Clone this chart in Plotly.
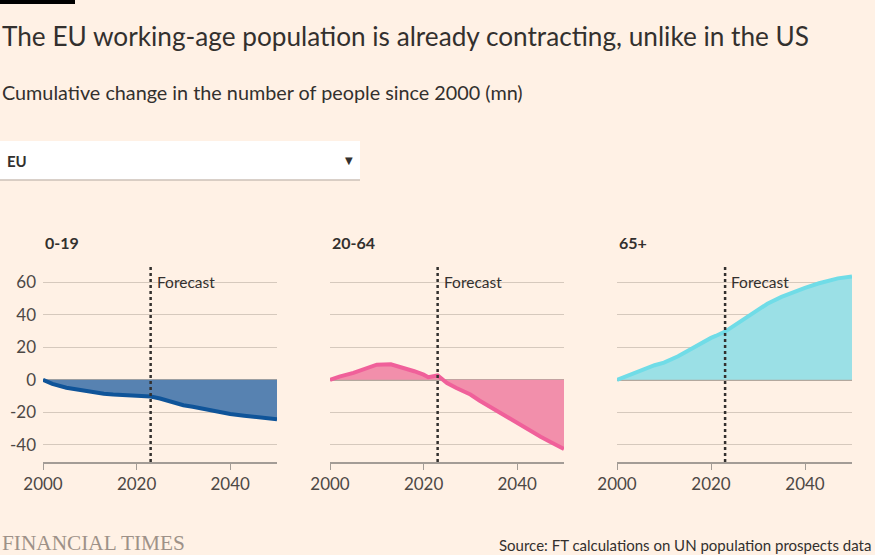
import plotly.graph_objects as go

W, H = 875, 555

years = [2000, 2002, 2005, 2008, 2010, 2013, 2015, 2018, 2020, 2021, 2023,
         2025, 2027, 2030, 2032, 2035, 2038, 2040, 2043, 2045, 2047, 2050]

age_0_19 = [0, -2.5, -4.8, -6.3, -7.2, -8.5, -9.0, -9.4, -9.8, -10.0, -10.3,
            -11.5, -13.2, -15.6, -16.5, -18.3, -20.2, -21.0, -22.0, -22.6, -23.4, -24.2]
age_20_64 = [0, 2.0, 4.3, 7.6, 9.3, 9.6, 8.0, 5.3, 3.2, 1.6, 2.7,
             -1.9, -5.0, -9.0, -12.8, -18.0, -23.2, -26.6, -31.5, -35.0, -38.0, -42.5]
age_65 = [0, 2.3, 5.8, 9.0, 10.6, 14.5, 17.8, 22.8, 25.8, 27.0, 29.7,
          33.5, 37.4, 43.0, 46.8, 51.0, 54.6, 56.6, 59.4, 61.0, 62.4, 63.6]

panels = ["0-19", "20-64", "65+"]
series = [age_0_19, age_20_64, age_65]
line_colors = ["#0f5499", "#f0609a", "#70dce7"]
fill_colors = ["#5782b1", "#f28fab", "#9be0e6"]
y_ticks = [-40, -20, 0, 20, 40, 60]
y_tick_labels = ["-40", "-20", "0", "20", "40", "60"]
x_ticks = [2000, 2020, 2040]
forecast_year = 2023

# panel positions in pixels (left, right)
px_left = [43, 330, 617]
px_right = [277, 564, 852]
y_top, y_bottom = 266, 462

fig = go.Figure()

for i in range(3):
    n = "" if i == 0 else str(i + 1)
    fig.add_trace(go.Scatter(
        x=years, y=series[i], mode="lines",
        line=dict(color=line_colors[i], width=4),
        fill="tozeroy", fillcolor=fill_colors[i],
        xaxis="x" + n, yaxis="y" + n, showlegend=False,
        hoverinfo="x+y",
    ))
    fig.update_layout({
        "xaxis" + n: dict(
            domain=[px_left[i] / W, px_right[i] / W], range=[2000, 2050],
            tickvals=x_ticks, ticks="outside", ticklen=6, tickcolor="#a39c96",
            showline=True, linecolor="#a39c96", linewidth=1.5, showgrid=False,
            zeroline=False, anchor="y" + n, automargin=False,
            tickfont=dict(family="Lato", size=17, color="#4d4845"),
        ),
        "yaxis" + n: dict(
            domain=[1 - y_bottom / H, 1 - y_top / H], range=[-50.5, 70],
            tickvals=y_ticks, ticktext=y_tick_labels, showticklabels=(i == 0),
            gridcolor="#d6c9bd", gridwidth=1,
            zeroline=True, zerolinecolor="#b3a89e", zerolinewidth=1.5,
            showline=False, anchor="x" + n, ticks="", ticklabelstandoff=6,
            automargin=False,
            tickfont=dict(family="Lato", size=17, color="#4d4845"),
        ),
    })
    fig.add_shape(type="line", xref="x" + n, yref="y" + n,
                  x0=forecast_year, x1=forecast_year, y0=-50.5, y1=70,
                  line=dict(color="#33302e", width=2.5, dash="dot"))
    fig.add_annotation(xref="x" + n, yref="y" + n, x=forecast_year, y=60,
                       text="Forecast", showarrow=False, xanchor="left",
                       xshift=4, font=dict(family="Lato", size=15.5, color="#33302e"))
    fig.add_annotation(xref="paper", yref="paper", x=px_left[i] / W, y=1 - 242 / H,
                       text="<b>" + panels[i] + "</b>", showarrow=False,
                       xanchor="left", yanchor="middle",
                       font=dict(family="Lato", size=16, color="#33302e"))

# top black bar
fig.add_shape(type="rect", xref="paper", yref="paper", x0=0, x1=75 / W,
              y0=1 - 4 / H, y1=1, fillcolor="#000000", line_width=0)

# dropdown box imitation
fig.add_shape(type="rect", xref="paper", yref="paper", x0=0, x1=360 / W,
              y0=1 - 180 / H, y1=1 - 141 / H, fillcolor="#ffffff", line_width=0)
fig.add_shape(type="line", xref="paper", yref="paper", x0=0, x1=360 / W,
              y0=1 - 180 / H, y1=1 - 180 / H, line=dict(color="#ccc1b7", width=1.5))
fig.add_annotation(xref="paper", yref="paper", x=5 / W, y=1 - 161 / H, text="<b>EU</b>",
                   showarrow=False, xanchor="left", yanchor="middle",
                   font=dict(family="Lato", size=15, color="#33302e"))
fig.add_annotation(xref="paper", yref="paper", x=349 / W, y=1 - 161 / H, text="▼",
                   showarrow=False, xanchor="center", yanchor="middle",
                   font=dict(family="DejaVu Sans", size=10, color="#33302e"))

# texts
fig.add_annotation(xref="paper", yref="paper", x=0, y=1 - 36 / H,
                   text="The EU working-age population is already contracting, unlike in the US",
                   showarrow=False, xanchor="left", yanchor="middle",
                   font=dict(family="Lato", size=26.2, color="#33302e"))
fig.add_annotation(xref="paper", yref="paper", x=0, y=1 - 92 / H,
                   text="Cumulative change in the number of people since 2000 (mn)",
                   showarrow=False, xanchor="left", yanchor="middle",
                   font=dict(family="Lato", size=19.8, color="#33302e"))
fig.add_annotation(xref="paper", yref="paper", x=0, y=1 - 543 / H,
                   text="FINANCIAL TIMES", showarrow=False, xanchor="left", yanchor="middle",
                   font=dict(family="Liberation Serif", size=21.3, color="#9e9188"))
fig.add_annotation(xref="paper", yref="paper", x=873 / W, y=1 - 545 / H,
                   text="Source: FT calculations on UN population prospects data",
                   showarrow=False, xanchor="right", yanchor="middle",
                   font=dict(family="Lato", size=15, color="#33302e"))

fig.update_layout(
    width=W, height=H,
    margin=dict(l=0, r=0, t=0, b=0),
    paper_bgcolor="#fff1e5", plot_bgcolor="#fff1e5",
    font=dict(family="Lato", color="#33302e"),
)

fig.write_html("out.html", config={"displayModeBar": False},
               post_script="document.body.style.margin='0';")
